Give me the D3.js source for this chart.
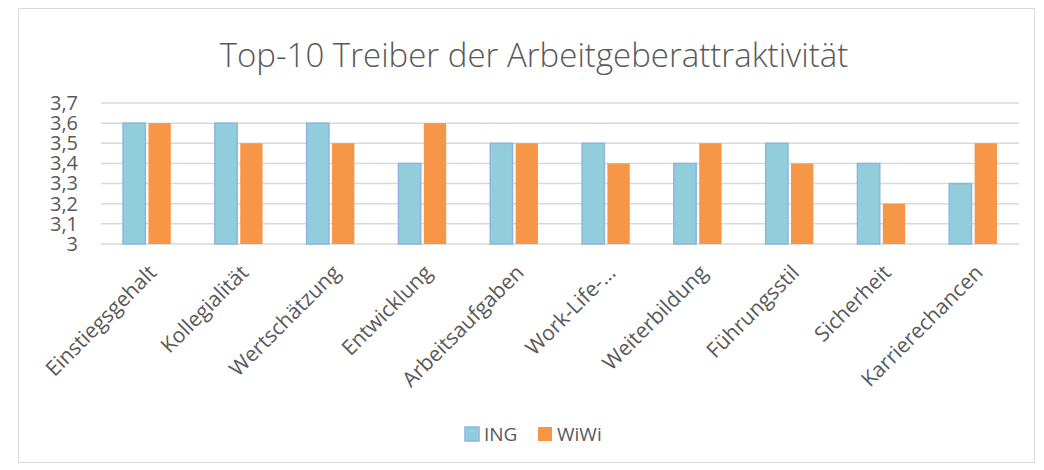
<!DOCTYPE html>
<html>
<head>
<meta charset="utf-8">
<script src="https://cdn.jsdelivr.net/npm/d3@7"></script>
<style>
  body { margin: 0; background: #fff; }
  text { font-family: "Open Sans", sans-serif; fill: #595959; }
</style>
</head>
<body>
<div class="chart"></div>
<script>
// data
var categories = ["Einstiegsgehalt", "Kollegialität", "Wertschätzung", "Entwicklung", "Arbeitsaufgaben",
  "Work-Life-...", "Weiterbildung", "Führungsstil", "Sicherheit", "Karrierechancen"];
var seriesNames = ["ING", "WiWi"];
var ingValues = [3.6, 3.6, 3.6, 3.4, 3.5, 3.5, 3.4, 3.5, 3.4, 3.3];
var wiwiValues = [3.6, 3.5, 3.5, 3.6, 3.5, 3.4, 3.5, 3.4, 3.2, 3.5];
var yTicks = [3, 3.1, 3.2, 3.3, 3.4, 3.5, 3.6, 3.7];

var svgWidth = 1044;
var svgHeight = 470;
var margin = {top: 103, right: 25, bottom: 226, left: 101};
var chartWidth = svgWidth - margin.left - margin.right;
var chartHeight = svgHeight - margin.top - margin.bottom;

var colors = {ING: "#92CDDC", WiWi: "#F79646"};

var svg = d3.select(".chart")
  .append("svg")
  .attr("width", svgWidth)
  .attr("height", svgHeight);

// chart frame
svg.append("rect")
  .attr("x", 18.5).attr("y", 8.5)
  .attr("width", 1016).attr("height", 454)
  .attr("fill", "none")
  .attr("stroke", "#d9d9d9");

svg.append("text")
  .attr("x", 534).attr("y", 67)
  .attr("text-anchor", "middle")
  .style("font-size", "33px")
  .style("font-weight", 300)
  .text("Top-10 Treiber der Arbeitgeberattraktivität");

var chart = svg.append("g")
  .attr("transform", `translate(${margin.left},${margin.top})`);

var x0 = d3.scaleBand().domain(categories).range([0, chartWidth]).paddingInner(0.48).paddingOuter(0.24);
var x1 = d3.scaleBand().domain(seriesNames).range([0, x0.bandwidth()]).paddingInner(0.12);
var yScale = d3.scaleLinear().domain([3, 3.7]).range([chartHeight, 0]);

// gridlines
chart.append("g")
  .selectAll("line")
  .data(yTicks)
  .enter()
  .append("line")
  .attr("x1", 0).attr("x2", chartWidth)
  .attr("y1", function(d) { return yScale(d); })
  .attr("y2", function(d) { return yScale(d); })
  .attr("stroke", "#d9d9d9")
  .attr("stroke-width", 1.5);

// y axis labels
var leftAxis = d3.axisLeft(yScale).tickValues(yTicks).tickSize(0).tickPadding(23)
  .tickFormat(function(d) { return String(d).replace(".", ","); });
var yAxisG = chart.append("g").call(leftAxis);
yAxisG.select(".domain").remove();
yAxisG.selectAll("text").style("font-size", "20px").style("fill", "#595959");

// bars
var rows = categories.map(function(c, i) {
  return {cat: c, values: [{key: "ING", v: ingValues[i]}, {key: "WiWi", v: wiwiValues[i]}]};
});

var groups = chart.selectAll(".grp")
  .data(rows)
  .enter()
  .append("g")
  .attr("transform", function(d) { return `translate(${x0(d.cat)},0)`; });

groups.selectAll("rect")
  .data(function(d) { return d.values; })
  .enter()
  .append("rect")
  .attr("x", function(d) { return x1(d.key); })
  .attr("y", function(d) { return yScale(d.v); })
  .attr("width", x1.bandwidth())
  .attr("height", function(d) { return chartHeight - yScale(d.v); })
  .attr("fill", function(d) { return colors[d.key]; })
  .attr("stroke", function(d) { return d.key === "ING" ? "#8EB4E3" : "none"; })
  .attr("stroke-width", 1.5);

// x axis labels, rotated
var bottomAxis = d3.axisBottom(x0).tickSize(0).tickPadding(0);
var xAxisG = chart.append("g")
  .attr("transform", `translate(0,${chartHeight})`)
  .call(bottomAxis);
xAxisG.select(".domain").remove();
xAxisG.selectAll("text")
  .style("font-size", "21px")
  .style("fill", "#595959")
  .attr("text-anchor", "end")
  .attr("dy", null)
  .attr("y", 0)
  .attr("transform", "translate(11,30) rotate(-45)");

// legend
var legend = svg.append("g").attr("transform", "translate(465,434)");
var legendX = [0, 73];
seriesNames.forEach(function(name, i) {
  var g = legend.append("g").attr("transform", `translate(${legendX[i]},0)`);
  g.append("rect")
    .attr("x", 0).attr("y", -7)
    .attr("width", 14).attr("height", 14)
    .attr("fill", colors[name])
    .attr("stroke", name === "ING" ? "#8EB4E3" : "none")
    .attr("stroke-width", 1.5);
  g.append("text")
    .attr("x", 19).attr("y", 7)
    .style("font-size", "19px")
    .text(name);
});
</script>
</body>
</html>
